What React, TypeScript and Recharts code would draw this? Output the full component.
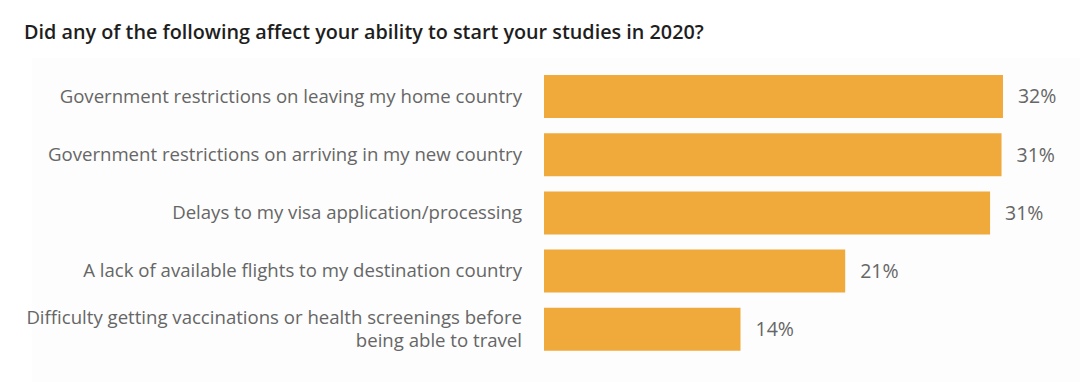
import React from "react";
import { BarChart, Bar, XAxis, YAxis, LabelList } from "recharts";

const categories = [
  "Government restrictions on leaving my home country",
  "Government restrictions on arriving in my new country",
  "Delays to my visa application/processing",
  "A lack of available flights to my destination country",
  "Difficulty getting vaccinations or health screenings before|being able to travel",
];
const values = [32, 31.9, 31.1, 21, 13.7];
const valueLabels = ["32%", "31%", "31%", "21%", "14%"];

const data = categories.map((name, i) => ({
  name,
  value: values[i],
  label: valueLabels[i],
}));

const FONT = "'Open Sans', sans-serif";

const CategoryTick = (props: any) => {
  const { x, y, payload } = props;
  const lines: string[] = String(payload.value).split("|");
  const lineHeight = 23;
  const startY = y - ((lines.length - 1) * lineHeight) / 2;
  return (
    <g>
      {lines.map((line, i) => (
        <text
          key={i}
          x={x - 14}
          y={startY + i * lineHeight}
          dy="0.36em"
          textAnchor="end"
          fill="#666666"
          fontSize={18.6}
          fontFamily={FONT}
        >
          {line}
        </text>
      ))}
    </g>
  );
};

export default function App() {
  return (
    <div
      style={{
        position: "fixed",
        left: 0,
        top: 0,
        width: 1080,
        height: 382,
        background: "#ffffff",
        fontFamily: FONT,
      }}
    >
      <div
        style={{
          position: "absolute",
          left: 32,
          top: 58,
          width: 1048,
          height: 324,
          background: "#fdfdfd",
        }}
      />
      <div
        style={{
          position: "absolute",
          left: 24,
          top: 18,
          fontSize: 19.8,
          lineHeight: "28px",
          fontWeight: 600,
          color: "#1e1e1e",
          whiteSpace: "nowrap",
        }}
      >
        Did any of the following affect your ability to start your studies in 2020?
      </div>
      <div style={{ position: "absolute", left: 0, top: 0 }}>
        <BarChart
          width={1080}
          height={382}
          data={data}
          layout="vertical"
          margin={{ top: 67, right: 34, bottom: 24, left: 0 }}
        >
          <XAxis type="number" domain={[0, 35]} hide />
          <YAxis
            type="category"
            dataKey="name"
            width={544}
            axisLine={false}
            tickLine={false}
            tick={<CategoryTick />}
            interval={0}
          />
          <Bar dataKey="value" fill="#f0aa3c" barSize={43} isAnimationActive={false}>
            <LabelList
              dataKey="label"
              position="right"
              offset={15}
              fill="#666666"
              fontSize={19.5}
              fontFamily={FONT}
            />
          </Bar>
        </BarChart>
      </div>
    </div>
  );
}
